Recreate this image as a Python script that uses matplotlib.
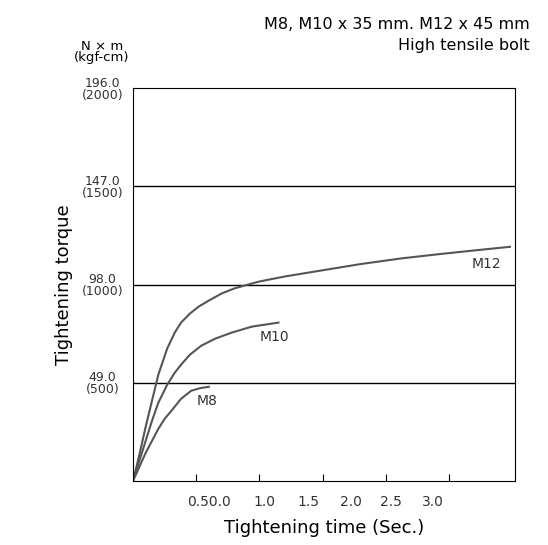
import matplotlib
matplotlib.use("Agg")
import matplotlib.pyplot as plt

m12_t = [0, 0.05, 0.1, 0.15, 0.2, 0.27, 0.33, 0.38, 0.45, 0.52, 0.6, 0.7, 0.8, 0.9, 1.0, 1.2, 1.49, 1.8, 2.12, 2.4, 2.7, 2.98]
m12_v = [0, 13, 27, 40, 53, 66, 74, 79, 83.5, 87, 90, 93.5, 96, 97.8, 99.5, 102, 105, 108.2, 111, 113, 115, 116.8]
m10_t = [0, 0.05, 0.1, 0.15, 0.2, 0.27, 0.33, 0.38, 0.45, 0.54, 0.65, 0.78, 0.94, 1.15]
m10_v = [0, 10, 20, 30, 39, 48, 54, 58, 63, 67.5, 71, 74, 77, 79]
m8_t = [0, 0.05, 0.1, 0.15, 0.2, 0.25, 0.31, 0.38, 0.46, 0.53, 0.6]
m8_v = [0, 7, 14, 20, 26, 31, 35.5, 41, 45, 46.3, 47]
yticks = [49.0, 98.0, 147.0, 196.0]
ylabels = ["49.0\n(500)", "98.0\n(1000)", "147.0\n(1500)", "196.0\n(2000)"]
xticks = [0.5, 1.0, 1.5, 2.0, 2.5]
xlab_txt = ["0.50.0", "1.0", "1.5", "2.0", "2.5", "3.0"]
label_px = [208, 263, 308, 350, 390, 433]

fig = plt.figure(figsize=(5.48, 5.45), dpi=100)
ax = fig.add_axes([133/548, 1-481/545, (515-133)/548, (481-88)/545])
ax.set_xlim(0, 3.02)
ax.set_ylim(0, 196)
for y in yticks[:-1]:
    ax.axhline(y, color="black", lw=1)
c = "#555555"
ax.plot(m12_t, m12_v, color=c, lw=1.5)
ax.plot(m10_t, m10_v, color=c, lw=1.5)
ax.plot(m8_t, m8_v, color=c, lw=1.5)
ax.text(2.68, 106, "M12", fontsize=10, color="#333333")
ax.text(1.0, 70, "M10", fontsize=10, color="#333333")
ax.text(0.5, 38, "M8", fontsize=10, color="#333333")
ax.set_yticks(yticks)
ax.set_yticklabels(ylabels, fontsize=9, color="#333333", linespacing=0.9, ha="center")
ax.tick_params(axis="y", pad=22)
ax.set_xticks(xticks)
ax.set_xticklabels([])
for px, t in zip(label_px, xlab_txt):
    ax.text((px - 131.5) / 127, -7, t, ha="center", va="top", fontsize=10, color="#333333")
ax.tick_params(direction="in", length=5, left=False)
ax.set_xlabel("Tightening time (Sec.)", fontsize=13, labelpad=24)
ax.set_ylabel("Tightening torque", fontsize=13, labelpad=6)
fig.text(102/548, 1-52/545, "N × m\n(kgf-cm)", ha="center", va="center", fontsize=9.5, linespacing=0.9)
fig.text(530/548, 1-35/545, "M8, M10 x 35 mm. M12 x 45 mm\nHigh tensile bolt", ha="right", va="center", fontsize=11.5, linespacing=1.5)
fig.savefig("out.png", dpi=100)
